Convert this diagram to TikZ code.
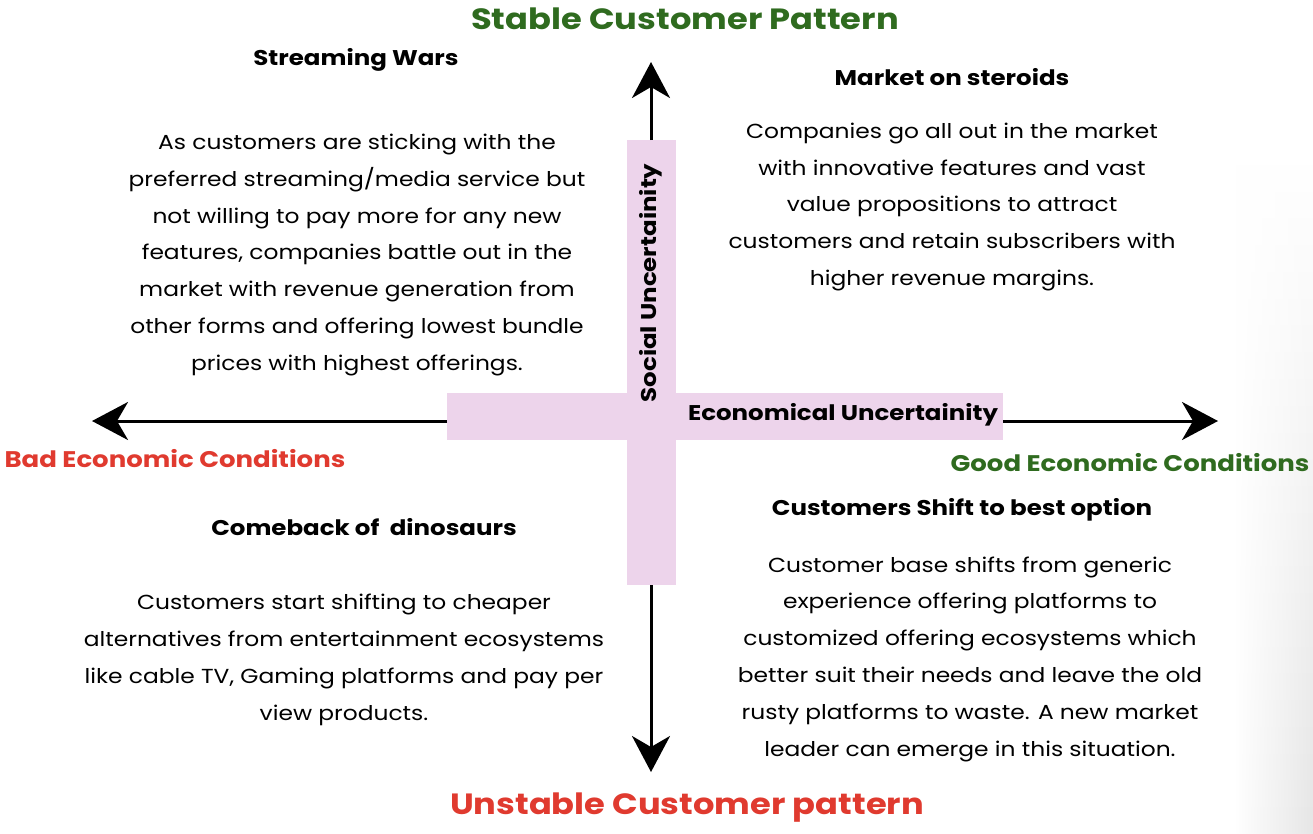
\documentclass[tikz,border=0pt]{standalone}
\usepackage{fontspec}
\setmainfont{Poppins}[FakeStretch=1.15]
\usetikzlibrary{arrows.meta,fadings}
\definecolor{stablegreen}{HTML}{2F6B1F}
\definecolor{alertred}{HTML}{E03A2F}
\definecolor{barpink}{HTML}{EDD4EB}
\tikzfading[name=edgefade, left color=transparent!100, right color=transparent!0]
\tikzset{
  axis/.style={line width=3pt, -{Stealth[length=36pt,width=38pt,inset=11pt]}},
  title/.style={font=\fontsize{29.3}{34}\selectfont\bfseries, anchor=center},
  heading/.style={font=\fontsize{21.3}{26}\selectfont\bfseries, anchor=center},
  body/.style={font=\fontsize{20.3}{36.8}\selectfont, align=center, anchor=center},
  sidelabel/.style={font=\fontsize{22.6}{27}\selectfont\bfseries},
  bar/.style={fill=barpink, draw=none}
}
\begin{document}
\begin{tikzpicture}[x=1pt,y=-1pt]
\useasboundingbox (0,0) rectangle (1313,833);
\fill[white] (0,0) rectangle (1313,833);
% soft grey edge on the right
\shade[top color=white, bottom color=black!10, path fading=edgefade] (1235,150) rectangle (1313,833);

% uncertainty bars
\fill[bar] (627,140) rectangle (676,585);
\fill[bar] (447,393) rectangle (1003,440);

% axis end points
\coordinate (vtopbar) at (651,140);
\coordinate (vtop) at (651,62);
\coordinate (vbotbar) at (651,585);
\coordinate (vbot) at (651,772);
\coordinate (hleftbar) at (447,421);
\coordinate (hleft) at (92,421);
\coordinate (hrightbar) at (1003,421);
\coordinate (hright) at (1218,421);

\draw[axis] (vtopbar) -- (vtop);
\draw[axis] (vbotbar) -- (vbot);
\draw[axis] (hleftbar) -- (hleft);
\draw[axis] (hrightbar) -- (hright);

% axis captions
\node[heading, rotate=90] (social) at (651,283) {Social Uncertainity};
\node[heading] (econ) at (843,415) {Economical Uncertainity};

\node[title, text=stablegreen] (stable) at (685,19) {Stable Customer Pattern};
\node[title, text=alertred] (unstable) at (687,808) {Unstable Customer pattern};
\node[sidelabel, text=alertred, anchor=west] (bad) at (1,459) {Bad Economic Conditions};
\node[sidelabel, text=stablegreen, anchor=east] (good) at (1313,463) {Good Economic Conditions};

% top left quadrant
\node[heading] (swh) at (356,60) {Streaming Wars};
\node[body] (swb) at (357,255) {As customers are sticking with the\\
preferred streaming/media service but\\
not willing to pay more for any new\\
features, companies battle out in the\\
market with revenue generation from\\
other forms and offering lowest bundle\\
prices with highest offerings.};

% top right quadrant
\node[heading] (msh) at (952,77) {Market on steroids};
\node[body] (msb) at (952,207) {Companies go all out in the market\\
with innovative features and vast\\
value propositions to attract\\
customers and retain subscribers with\\
higher revenue margins.};

% bottom left quadrant
\node[heading] (cdh) at (364,527) {Comeback of \ dinosaurs};
\node[body] (cdb) at (344,660) {Customers start shifting to cheaper\\
alternatives from entertainment ecosystems\\
like cable TV, Gaming platforms and pay per\\
view products.};

% bottom right quadrant
\node[heading] (csh) at (962,510) {Customers Shift to best option};
\node[body] (csb) at (970,659) {Customer base shifts from generic\\
experience offering platforms to\\
customized offering ecosystems which\\
better suit their needs and leave the old\\
rusty platforms to waste. A new market\\
leader can emerge in this situation.};
\end{tikzpicture}
\end{document}
